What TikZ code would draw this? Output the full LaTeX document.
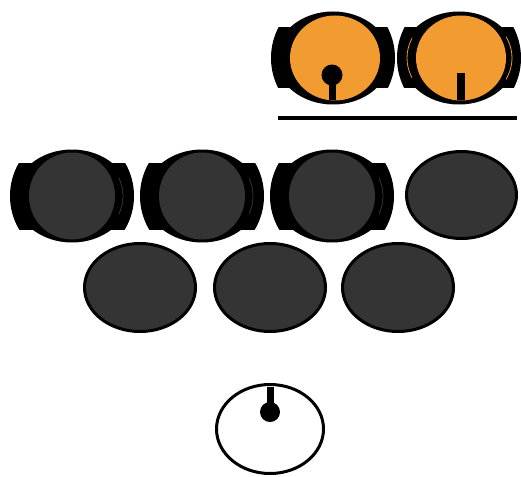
\documentclass[tikz,border=0pt]{standalone}
\definecolor{orng}{HTML}{F29B30}
\definecolor{dgray}{HTML}{343434}
\tikzset{outl/.style={draw=black,line width=3pt}}
% #1 cx, #2 cy, #3 fill, #4 band half height, #5 inner rx, #6 inner ry, #7 inner dx
\newcommand\earblob[7]{%
  \fill[black] (#1,#2) ellipse[x radius=57pt,y radius=46.5pt];
  \begin{scope}
    \clip (#1-70,#2-#4) rectangle (#1+70,#2+#4);
    \fill[black] (#1,#2) ellipse[x radius=62pt,y radius=64pt];
  \end{scope}
  \fill[#3] (#1+#7,#2) ellipse[x radius=#5pt,y radius=#6pt];
}
% thin light line inside an ear: #1 cx, #2 cy, #3 colour, #4 side (+1/-1), #5 radius
\newcommand\earline[5]{%
  \begin{scope}
    \clip (#1+#4*47,#2-27) rectangle (#1+#4*70,#2+27);
    \draw[#3, line width=0.8pt] (#1,#2) ellipse[x radius=#5pt,y radius=46pt];
  \end{scope}
}
\begin{document}
\begin{tikzpicture}[x=1pt,y=-1pt]
\useasboundingbox (0,0) rectangle (521,476);
% orange row
\earblob{333}{58}{orng}{30}{45}{42.5}{2}
\earblob{459}{58}{orng}{30}{45}{42.5}{2}
\earline{459}{58}{orng}{1}{53}
\earline{459}{58}{orng}{-1}{52}
\fill[black] (332,75) circle[radius=10.5pt];
\fill[black] (328.5,75) rectangle (335.5,100);
\fill[black] (457,73) rectangle (464.5,100);
\draw[line width=4pt] (278,118) -- (517,118);
% dark row 1
\earblob{72}{196}{dgray}{33}{43}{43.5}{0}
\earblob{202}{196}{dgray}{33}{43}{43.5}{0}
\earblob{332}{196}{dgray}{33}{43}{43.5}{0}
\earline{72}{196}{dgray}{1}{51}
\earline{202}{196}{dgray}{1}{51}
\earline{332}{196}{dgray}{1}{51}
\filldraw[dgray, outl] (461.5,195) ellipse[x radius=55pt,y radius=43.5pt];
% dark row 2
\foreach \cx in {140,270,398}{
  \filldraw[dgray, outl] (\cx,287.5) ellipse[x radius=55.5pt,y radius=44pt];
}
% white one
\draw[outl] (270,429) ellipse[x radius=53.5pt,y radius=44.5pt];
\fill[black] (270,412) circle[radius=10pt];
\fill[black] (266.5,387) rectangle (273.5,412);
\end{tikzpicture}
\end{document}
